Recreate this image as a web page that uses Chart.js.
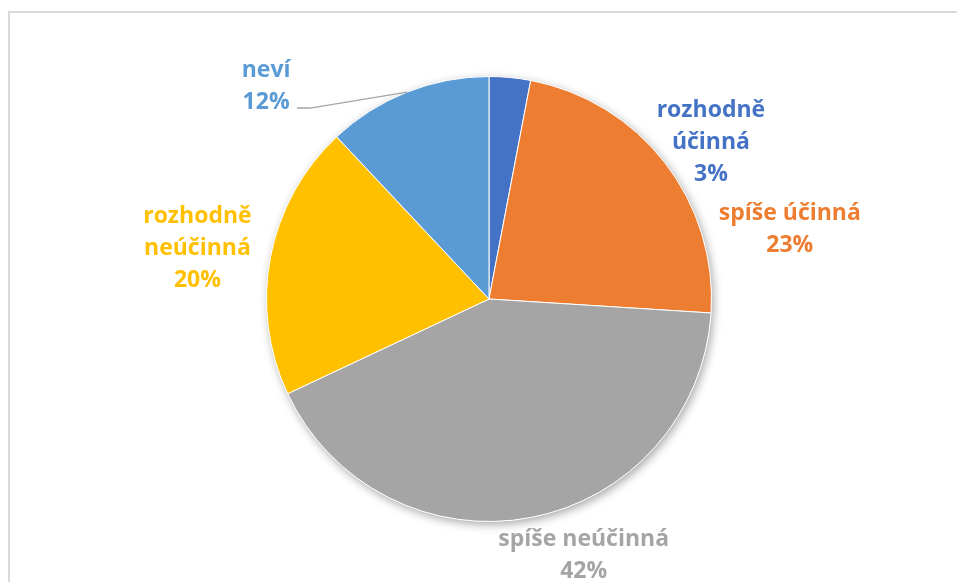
<!DOCTYPE html>
<html>
<head>
<meta charset="utf-8">
<script src="https://cdn.jsdelivr.net/npm/chart.js@4.4.1/dist/chart.umd.min.js"></script>
<style>
    html, body { margin: 0; padding: 0; background: #fff; overflow: hidden; }
    #wrap { position: relative; width: 957px; height: 582px; }
    #frame { position: absolute; left: 8px; top: 11px; width: 1000px; height: 1000px; border: 2px solid #d9d9d9; box-sizing: border-box; }
    #chart { position: absolute; left: 0; top: 0; }
</style>
</head>
<body>
<div id="wrap">
    <div id="frame"></div>
    <canvas id="chart" width="957" height="582"></canvas>
</div>
<script>
// Data
const categories = ['rozhodně účinná', 'spíše účinná', 'spíše neúčinná', 'rozhodně neúčinná', 'neví'];
const labelLines = [['rozhodně', 'účinná'], ['spíše účinná'], ['spíše neúčinná'], ['rozhodně', 'neúčinná'], ['neví']];
const values = [3, 23, 42, 20, 12];
const colors = ['#4472C4', '#ED7D31', '#A5A5A5', '#FFC000', '#5B9BD5'];

// label placement relative to the outer middle point of each slice
const labelOffsets = [[201, 65], [125, 67], [53, 38], [-73, -9], [-141, -6]];

const pieExtras = {
    id: 'pieExtras',
    beforeDatasetsDraw(chart) {
        // one soft shadow under the whole pie
        const arc = chart.getDatasetMeta(0).data[0];
        if (!arc) return;
        const ctx = chart.ctx;
        ctx.save();
        ctx.shadowColor = 'rgba(0,0,0,0.35)';
        ctx.shadowBlur = 10;
        ctx.shadowOffsetX = 2;
        ctx.shadowOffsetY = 3;
        ctx.fillStyle = '#fff';
        ctx.beginPath();
        ctx.arc(arc.x, arc.y, arc.outerRadius, 0, Math.PI * 2);
        ctx.fill();
        ctx.restore();
    },
    afterDatasetsDraw(chart) {
        const ctx = chart.ctx;
        const meta = chart.getDatasetMeta(0);
        const total = values.reduce((a, b) => a + b, 0);
        ctx.save();
        ctx.font = 'bold 23px "Open Sans"';
        ctx.textAlign = 'center';
        ctx.textBaseline = 'middle';
        meta.data.forEach((arc, i) => {
            const mid = (arc.startAngle + arc.endAngle) / 2;
            const px = arc.x + Math.cos(mid) * arc.outerRadius;
            const py = arc.y + Math.sin(mid) * arc.outerRadius;
            const lx = px + labelOffsets[i][0];
            const ly = py + labelOffsets[i][1];
            const lines = [...labelLines[i], Math.round(values[i] / total * 100) + '%'];
            const lh = 32;
            ctx.fillStyle = colors[i];
            lines.forEach((t, k) => {
                ctx.fillText(t, lx, ly + (k - (lines.length - 1) / 2) * lh);
            });
            if (i === 4) {
                // leader line for the small label
                ctx.strokeStyle = '#a6a6a6';
                ctx.lineWidth = 1.5;
                ctx.beginPath();
                ctx.moveTo(px, py);
                ctx.lineTo(lx + 44, ly + 22);
                ctx.lineTo(lx + 31, ly + 22);
                ctx.stroke();
            }
        });
        ctx.restore();
    }
};

new Chart(document.getElementById('chart'), {
    type: 'pie',
    data: {
        labels: categories,
        datasets: [{
            data: values,
            backgroundColor: colors,
            borderColor: '#ffffff',
            borderWidth: 1
        }]
    },
    options: {
        responsive: false,
        animation: false,
        layout: { padding: { top: 76, bottom: 60, left: 21, right: 0 } },
        plugins: {
            legend: { display: false },
            tooltip: { enabled: false }
        }
    },
    plugins: [pieExtras]
});
</script>
</body>
</html>
